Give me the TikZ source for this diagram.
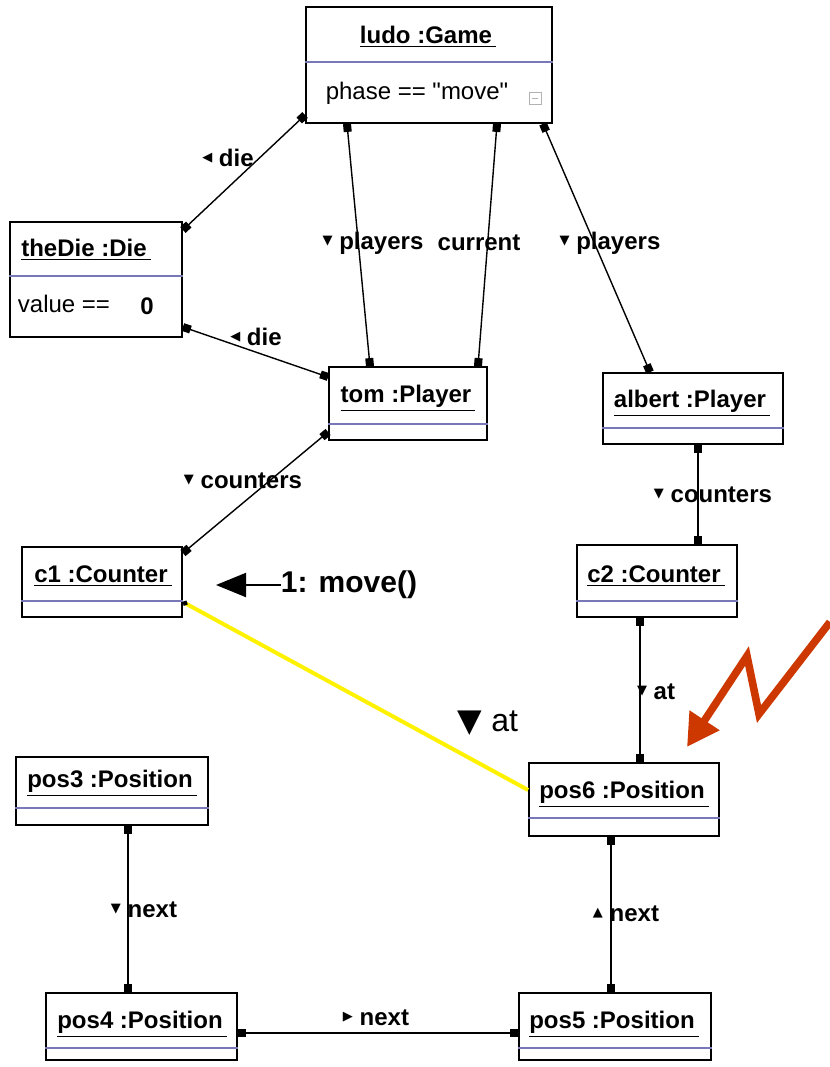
\documentclass[tikz,border=0pt]{standalone}
\usepackage{fontspec}
\setmainfont{Liberation Sans}
\newfontfamily\attrfont{Liberation Sans}
\newfontfamily\symfont{DejaVu Sans}
\usetikzlibrary{positioning,fit,arrows.meta,calc}
\definecolor{sepblue}{RGB}{120,120,185}
\definecolor{boltred}{RGB}{205,55,0}
\newcommand{\tdown}{\raisebox{2.5pt}{\symfont\fontsize{6.5}{6.5}\selectfont ▼}}
\newcommand{\tup}{\raisebox{2.5pt}{\symfont\fontsize{6.5}{6.5}\selectfont ▲}}
\newcommand{\tleft}{\raisebox{2.5pt}{\symfont\fontsize{6.5}{6.5}\selectfont ◀}}
\newcommand{\tright}{\raisebox{2.5pt}{\symfont\fontsize{6.5}{6.5}\selectfont ▶}}
\tikzset{
	obj/.style={draw,rectangle,inner sep=0pt,line width=0.9pt},
	title/.style={font=\fontsize{12}{14}\selectfont\bfseries,inner sep=0pt},
	attr/.style={font=\attrfont\fontsize{12}{14}\selectfont,inner sep=0pt},
	sep/.style={draw=sepblue,line width=0.8pt},
	role/.style={font=\fontsize{12}{14}\selectfont\bfseries,inner sep=0pt},
	link/.style={{Square[length=4pt]}-{Square[length=4pt]},line width=0.7pt},
	hilite/.style={{Circle[length=2.5pt,color=black]}-,draw=yellow,line width=2pt},
	msgarrow/.style={-{Triangle[length=15pt,width=12pt]},line width=1pt},
	bolt/.style={-{Triangle[length=16pt,width=17pt]},draw=boltred,line width=3.8pt,line join=miter}
}

\begin{document}
\begin{tikzpicture}[x=0.5pt,y=-0.5pt]
	\useasboundingbox (0,0) rectangle (830,1067);
	
	% objects
	\node[obj, fit={(306,7) (552,123)}] (game) {};
	\node[title] (gameT) at (428,37) {\underline{ludo :Game\,}};
	\draw[sep] (game.west |- 0,62) -- (game.east |- 0,62);
	\node[attr] (phase) at (417,93) {phase == "move"};
	\node[draw=gray!60,minimum size=6pt,inner sep=0pt] (fold) at (535,98) {};
	\draw[gray!60] ([xshift=1.5pt]fold.west) -- ([xshift=-1.5pt]fold.east);
	
	\node[obj, fit={(10,222) (182,337)}] (die) {};
	\node[title] (dieT) at (86,250) {\underline{theDie :Die\,}};
	\draw[sep] (die.west |- 0,276) -- (die.east |- 0,276);
	\node[attr] (value) at (64,304) {value ==};
	\node[title] (valueN) at (147,306) {0};
	
	\node[obj, fit={(329,367) (487,440)}] (tom) {};
	\node[title] (tomT) at (408,398) {\underline{tom :Player\,}};
	\draw[sep] (tom.west |- 0,424) -- (tom.east |- 0,424);
	
	\node[obj, fit={(603,373) (783,444)}] (albert) {};
	\node[title] (albertT) at (692,403) {\underline{albert :Player\,}};
	\draw[sep] (albert.west |- 0,428) -- (albert.east |- 0,428);
	
	\node[obj, fit={(22,547) (182,617)}] (c1) {};
	\node[title] (c1T) at (103,576) {\underline{c1 :Counter\,}};
	\draw[sep] (c1.west |- 0,601) -- (c1.east |- 0,601);
	
	\node[obj, fit={(577,545) (737,617)}] (c2) {};
	\node[title] (c2T) at (656,576) {\underline{c2 :Counter\,}};
	\draw[sep] (c2.west |- 0,601) -- (c2.east |- 0,601);
	
	\node[obj, fit={(529,763) (719,836)}] (pos6) {};
	\node[title] (pos6T) at (624,794) {\underline{pos6 :Position\,}};
	\draw[sep] (pos6.west |- 0,818) -- (pos6.east |- 0,818);
	
	\node[obj, fit={(16,757) (208,825)}] (pos3) {};
	\node[title] (pos3T) at (112,783) {\underline{pos3 :Position\,}};
	\draw[sep] (pos3.west |- 0,808) -- (pos3.east |- 0,808);
	
	\node[obj, fit={(46,993) (237,1060)}] (pos4) {};
	\node[title] (pos4T) at (142,1024) {\underline{pos4 :Position\,}};
	\draw[sep] (pos4.west |- 0,1048) -- (pos4.east |- 0,1048);
	
	\node[obj, fit={(519,993) (711,1060)}] (pos5) {};
	\node[title] (pos5T) at (614,1024) {\underline{pos5 :Position\,}};
	\draw[sep] (pos5.west |- 0,1048) -- (pos5.east |- 0,1048);
	
	% links
	\draw[link] (game.west |- 0,115) -- (die.east |- 0,230);
	\draw[link] (die.east |- 0,327) -- (tom.west |- 0,377);
	\draw[link] (game.south -| 347,0) -- (tom.north -| 370,0);
	\draw[link] (game.south -| 497,0) -- (tom.north -| 478,0);
	\draw[link] (game.south -| 543,0) -- (albert.north -| 650,0);
	\draw[link] (tom.west |- 0,432) -- (c1.east |- 0,553);
	\draw[link] (albert.south -| 698,0) -- (c2.north -| 698,0);
	\draw[link] (c2.south -| 640,0) -- (pos6.north -| 640,0);
	\draw[link] (pos3.south -| 128,0) -- (pos4.north -| 128,0);
	\draw[link] (pos6.south -| 611,0) -- (pos5.north -| 611,0);
	\draw[link] (pos4.east |- 0,1033) -- (pos5.west |- 0,1033);
	\draw[hilite] (c1.east |- 0,602) -- (pos6.west |- 0,790);
	
	% roles
	\node[role] (dieR1) at (228,158) {\tleft\ die};
	\node[role] (dieR2) at (256,337) {\tleft\ die};
	\node[role] (playersR1) at (373,243) {\tdown\ players};
	\node[role] (currentR) at (479,243) {current};
	\node[role] (playersR2) at (610,243) {\tdown\ players};
	\node[role] (countersR1) at (243,481) {\tdown\ counters};
	\node[role] (countersR2) at (713,495) {\tdown\ counters};
	\node[role] (atR1) at (656,692) {\tdown\ at};
	\node[attr, font=\fontsize{16}{18}\selectfont] (atR2) at (488,723) {{\symfont ▼} at};
	\node[role] (nextR1) at (144,910) {\tdown\ next};
	\node[role] (nextR2) at (626,914) {\tup\ next};
	\node[role] (nextR3) at (376,1018) {\tright\ next};
	
	% message
	\node[role, font=\fontsize{15}{17}\selectfont\bfseries] (msg) at (349,585) {1: move()};
	\coordinate (msgTip) at (216,585);
	\draw[msgarrow] (msg.west) -- (msgTip);
	
	% pointer
	\coordinate (b0) at (830,622);
	\coordinate (b1) at (759,714);
	\coordinate (b2) at (747,656);
	\coordinate (b3) at (687,747);
	\draw[bolt] (b0) -- (b1) -- (b2) -- (b3);
	
\end{tikzpicture}
\end{document}
